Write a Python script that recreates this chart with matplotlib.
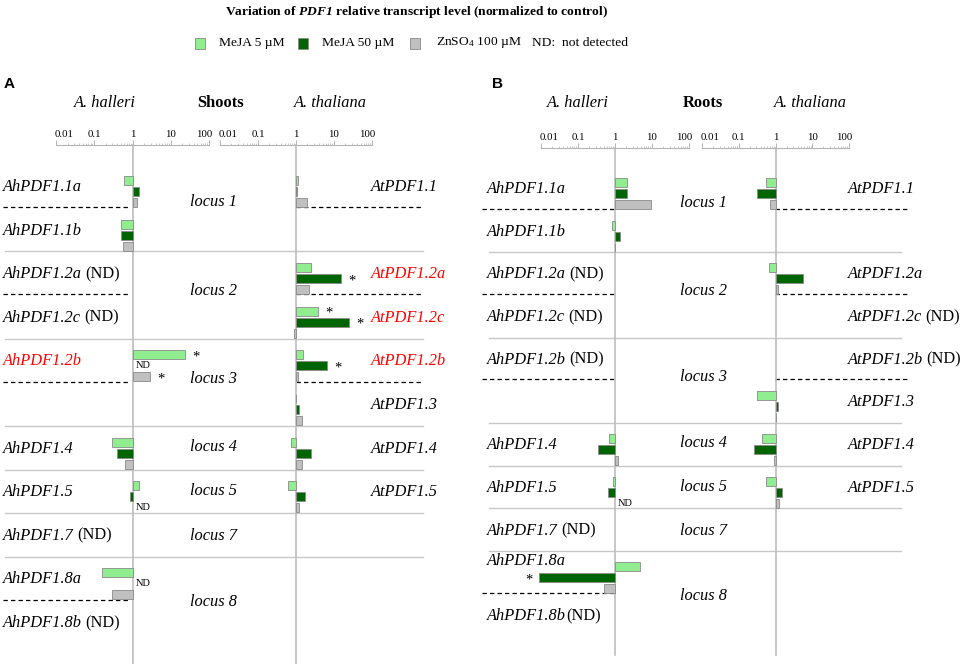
import numpy as np
import matplotlib
matplotlib.use("Agg")
import matplotlib.pyplot as plt
from matplotlib.patches import Rectangle
from matplotlib.ticker import NullFormatter
from matplotlib.transforms import ScaledTranslation

nan = np.nan

# ---------------- data ----------------
series_names = ["MeJA 5 µM", "MeJA 50 µM", "ZnSO$_4$ 100 µM"]
series_colors = ["#90ee90", "#006400", "#c0c0c0"]

genes_ah = ["AhPDF1.1a", "AhPDF1.1b", "AhPDF1.2a", "AhPDF1.2c", "AhPDF1.2b", None,
            "AhPDF1.4", "AhPDF1.5", "AhPDF1.7", "AhPDF1.8a", "AhPDF1.8b"]
genes_at = ["AtPDF1.1", None, "AtPDF1.2a", "AtPDF1.2c", "AtPDF1.2b", "AtPDF1.3",
            "AtPDF1.4", "AtPDF1.5", None, None, None]

loci = ["locus 1", "locus 2", "locus 3", "locus 4", "locus 5", "locus 7", "locus 8"]

# relative transcript level: columns = MeJA 5, MeJA 50, ZnSO4 ; NaN = not detected
shoots_ah = [[0.59, 1.46, 1.30],
             [0.50, 0.51, 0.55],
             [nan, nan, nan],
             [nan, nan, nan],
             [23.3, nan, 2.84],
             [nan, nan, nan],
             [0.29, 0.39, 0.64],
             [1.52, 0.87, nan],
             [nan, nan, nan],
             [0.155, nan, 0.30],
             [nan, nan, nan]]
shoots_at = [[1.15, 1.05, 1.92],
             [nan, nan, nan],
             [2.55, 15.6, 2.17],
             [3.9, 24.8, 0.89],
             [1.53, 6.5, 1.15],
             [1.02, 1.2, 1.44],
             [0.74, 2.55, 1.44],
             [0.62, 1.73, 1.22],
             [nan, nan, nan],
             [nan, nan, nan],
             [nan, nan, nan]]
roots_ah = [[2.07, 2.07, 9.2],
            [0.81, 1.36, 1.03],
            [nan, nan, nan],
            [nan, nan, nan],
            [nan, nan, nan],
            [nan, nan, nan],
            [0.70, 0.34, 1.18],
            [0.90, 0.66, nan],
            [nan, nan, nan],
            [4.7, 0.009, 0.51],
            [nan, nan, nan]]
roots_at = [[0.56, 0.31, 0.69],
            [nan, nan, nan],
            [0.66, 5.6, 1.18],
            [nan, nan, nan],
            [nan, nan, nan],
            [0.31, 1.18, 1.03],
            [0.42, 0.26, 0.90],
            [0.54, 1.52, 1.28],
            [nan, nan, nan],
            [nan, nan, nan],
            [nan, nan, nan]]

# significant differences (row, treatment)
stars_shoots_ah = [(4, 0), (4, 2)]
stars_shoots_at = [(2, 1), (3, 0), (3, 1), (4, 1)]
stars_roots_ah = [(9, 1)]
stars_roots_at = []

red_shoots = ["AhPDF1.2b", "AtPDF1.2a", "AtPDF1.2c", "AtPDF1.2b"]

tick_vals = [0.01, 0.1, 1, 10, 100]
tick_labels = ["0.01", "0.1", "1", "10", "100"]

# ---------------- style ----------------
plt.rcParams['font.family'] = ['Liberation Serif', 'DejaVu Serif']
plt.rcParams['mathtext.fontset'] = 'custom'
plt.rcParams['mathtext.rm'] = 'Liberation Serif'
plt.rcParams['mathtext.it'] = 'Liberation Serif:italic'
plt.rcParams['mathtext.bf'] = 'Liberation Serif:italic:bold'

W, H = 964, 664
fig = plt.figure(figsize=(W / 100, H / 100), dpi=100)
renderer = fig.canvas.get_renderer()
lay = fig.add_axes([0, 0, 1, 1])
lay.set_xlim(0, W)
lay.set_ylim(H, 0)
lay.axis('off')

LBL = 11.8
GRID = '#c8c8c8'
EDGE = '#8a8a8a'

# title + legend
lay.text(417, 12, r"Variation of $\mathbf{PDF1}$ relative transcript level (normalized to control)",
         ha='center', va='center', fontsize=9.7, fontweight='bold')
leg_boxes = [195, 298, 410]
leg_texts = [219, 322, 436]
for bx, tx, name, col in zip(leg_boxes, leg_texts, series_names, series_colors):
    lay.add_patch(Rectangle((bx, 37.5), 10, 11, facecolor=col, edgecolor=EDGE, lw=0.6))
    lay.text(tx, 43, name, ha='left', va='center', fontsize=9.7)
lay.text(532, 43, "ND:  not detected", ha='left', va='center', fontsize=9.7)


def panel(cfg):
    slots = cfg['y0'] + np.arange(len(genes_ah)) * cfg['pitch']
    pitch = cfg['pitch']
    # panel letter + headers
    lay.text(cfg['letter_x'], 84, cfg['letter'], fontsize=11, fontweight='bold',
             family='Liberation Sans', ha='left', va='center')
    lay.text(cfg['hx'][0], 103, "A. halleri", style='italic', fontsize=LBL, ha='center', va='center')
    lay.text(cfg['hx'][1], 103, cfg['organ'], fontweight='bold', fontsize=LBL, ha='center', va='center')
    lay.text(cfg['hx'][2], 103, "A. thaliana", style='italic', fontsize=LBL, ha='center', va='center')

    # separators
    for i in [1, 3, 5, 6, 7, 8]:
        y = (slots[i] + slots[i + 1]) / 2 - 5.4
        lay.plot([cfg['sep'][0], cfg['sep'][1]], [y, y], color=GRID, lw=1.0)
    for i, side in [(0, 'both'), (2, 'both'), (4, 'both'), (9, 'ah')]:
        y = (slots[i] + slots[i + 1]) / 2 - 6.2
        lay.plot(cfg['dash_ah'], [y, y], color='black', lw=0.9, ls=(0, (3.5, 2.5)))
        if side == 'both':
            lay.plot(cfg['dash_at'], [y, y], color='black', lw=0.9, ls=(0, (3.5, 2.5)))

    # locus labels
    locus_rows = [0.23, 2.28, 4.29, 5.85, 6.87, 7.9, 9.42]
    for name, r in zip(loci, locus_rows):
        lay.text(cfg['locus_x'], cfg['y0'] + r * pitch, name, style='italic', fontsize=LBL,
                 ha='center', va='center')

    # gene labels
    for side, genes, vals, lx in [('ah', genes_ah, cfg['ah'], cfg['lab_ah']),
                                  ('at', genes_at, cfg['at'], cfg['lab_at'])]:
        vals = np.array(vals)
        for i, g in enumerate(genes):
            if g is None:
                continue
            nd = np.all(np.isnan(vals[i]))
            col = 'red' if (cfg['red'] and g in red_shoots) else 'black'
            dy = cfg['lab_dy'].get(g, -4.5)
            t = lay.text(lx, slots[i] + dy, g, style='italic', fontsize=LBL,
                         ha='left', va='center', color=col)
            if nd:
                w = t.get_window_extent(renderer=renderer).width
                gap = cfg['nd_gap'].get(g, 3.0)
                lay.text(lx + w + gap, slots[i] + dy, "(ND)", fontsize=LBL,
                         ha='left', va='center', color=col)

    # bar axes
    for (x0, x1), vals, stars in [(cfg['ax_ah'], cfg['ah'], cfg['st_ah']),
                                  (cfg['ax_at'], cfg['at'], cfg['st_at'])]:
        vals = np.array(vals, dtype=float)
        ytop, ybot = cfg['ruler'], cfg['bottom']
        ax = fig.add_axes([x0 / W, 1 - ybot / H, (x1 - x0) / W, (ybot - ytop) / H])
        ax.set_facecolor('none')
        ax.set_xscale('log')
        ax.set_xlim(0.01, 100)
        ax.set_ylim(ybot, ytop)
        for s in ['left', 'right', 'bottom']:
            ax.spines[s].set_visible(False)
        ax.spines['top'].set_color('#b4b4b4')
        ax.spines['top'].set_linewidth(0.8)
        ax.xaxis.tick_top()
        ax.set_xticks(tick_vals)
        ax.set_xticklabels(tick_labels)
        ax.xaxis.set_minor_formatter(NullFormatter())
        ax.tick_params(axis='x', which='major', direction='out', length=3.5, width=0.7,
                       color='#b4b4b4', pad=0.8, labelsize=7.8)
        ax.tick_params(axis='x', which='minor', direction='out', length=1.6, width=0.5,
                       color='#b4b4b4')
        labs = ax.get_xticklabels()
        labs[0].set_ha('left')
        labs[0].set_transform(labs[0].get_transform() + ScaledTranslation(-0.01, 0, fig.dpi_scale_trans))
        labs[-1].set_ha('right')
        labs[-1].set_transform(labs[-1].get_transform() + ScaledTranslation(0.03, 0, fig.dpi_scale_trans))
        ax.set_yticks([])
        ax.axvline(1, color='#bdbdbd', lw=1.2, zorder=0, clip_on=False)
        any_row = ~np.all(np.isnan(vals), axis=1)
        for k in range(3):
            v = vals[:, k]
            ok = ~np.isnan(v)
            y = slots[ok] + (k - 1) * 11
            lo = np.minimum(v[ok], 1)
            hi = np.maximum(v[ok], 1)
            bars = ax.barh(y, hi - lo, left=lo, height=9, color=series_colors[k],
                           edgecolor=EDGE, linewidth=0.6, zorder=2)
            for b in bars:
                b.set_clip_on(False)
            for i in np.where(~ok & any_row)[0]:
                ax.annotate("ND", xy=(1, slots[i] + (k - 1) * 11), xytext=(3, 0),
                            textcoords='offset pixels', ha='left', va='center', fontsize=7.5,
                            annotation_clip=False)
        for (i, k) in stars:
            v = vals[i, k]
            dx = 11 if v >= 1 else -10
            ax.annotate("*", xy=(v, slots[i] + (k - 1) * 11), xytext=(dx, -2),
                        textcoords='offset pixels', ha='center', va='center', fontsize=10.5,
                        annotation_clip=False)


panel(dict(letter='A', letter_x=4, organ='Shoots', hx=[105, 220, 330],
           y0=191.5, pitch=43.6, sep=[5, 423], dash_ah=[3, 130], dash_at=[296, 422],
           locus_x=213, lab_ah=3, lab_at=371, red=True, lab_dy={}, nd_gap={},
           ax_ah=(56, 209), ax_at=(220, 372), ruler=145, bottom=664,
           ah=shoots_ah, at=shoots_at, st_ah=stars_shoots_ah, st_at=stars_shoots_at))
panel(dict(letter='B', letter_x=492, organ='Roots', hx=[578, 703, 810],
           y0=193.5, pitch=42.7, sep=[489, 901], dash_ah=[482, 615], dash_at=[775, 907],
           locus_x=703, lab_ah=487, lab_at=848, red=False, lab_dy={'AhPDF1.8a': -17},
           nd_gap={'AhPDF1.8b': 0.0},
           ax_ah=(541, 689), ax_at=(702, 849), ruler=148, bottom=655,
           ah=roots_ah, at=roots_at, st_ah=stars_roots_ah, st_at=stars_roots_at))

fig.savefig("out.png", dpi=100)
